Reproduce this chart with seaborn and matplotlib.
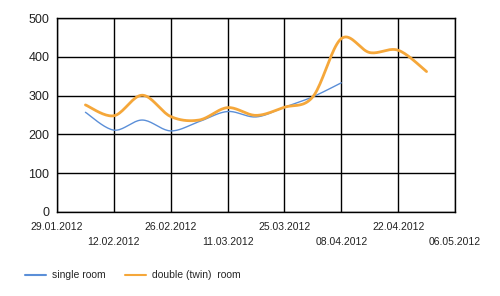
import numpy as np
import pandas as pd
import matplotlib
matplotlib.use("Agg")
import matplotlib.pyplot as plt
import matplotlib.dates as mdates
import seaborn as sns

# ---- data ----
single_dates = ["2012-02-05", "2012-02-12", "2012-02-19", "2012-02-26", "2012-03-04",
                "2012-03-11", "2012-03-18", "2012-03-25", "2012-04-01", "2012-04-08"]
single_values = [257, 211, 237, 209, 233, 259, 245, 270, 297, 333]

double_dates = ["2012-02-05", "2012-02-12", "2012-02-19", "2012-02-26", "2012-03-04",
                "2012-03-11", "2012-03-18", "2012-03-25", "2012-04-01", "2012-04-08",
                "2012-04-15", "2012-04-22", "2012-04-29"]
double_values = [276, 248, 301, 246, 237, 269, 249, 270, 297, 447, 411, 417, 362]

tick_labels = ["29.01.2012", "12.02.2012", "26.02.2012", "11.03.2012",
               "25.03.2012", "08.04.2012", "22.04.2012", "06.05.2012"]
y_ticks = [0, 100, 200, 300, 400, 500]

series_names = ["single room", "double (twin)  room"]
colors = ["#5b8fd8", "#f5a73a"]
widths = [1.0, 2.0]


def cardinal_spline(x, y, tension=0.5, n=20):
    """Render a smooth (cardinal spline) path through the data points."""
    x = np.asarray(x, float)
    y = np.asarray(y, float)
    xs, ys = [], []
    k = tension
    for i in range(len(x) - 1):
        p0 = (x[i - 1] if i > 0 else x[i], y[i - 1] if i > 0 else y[i])
        p1 = (x[i], y[i])
        p2 = (x[i + 1], y[i + 1])
        p3 = (x[i + 2] if i + 2 < len(x) else x[i + 1], y[i + 2] if i + 2 < len(x) else y[i + 1])
        m1 = (k * (p2[0] - p0[0]), k * (p2[1] - p0[1]))
        m2 = (k * (p3[0] - p1[0]), k * (p3[1] - p1[1]))
        t = np.linspace(0, 1, n, endpoint=(i == len(x) - 2))
        h00 = 2 * t**3 - 3 * t**2 + 1
        h10 = t**3 - 2 * t**2 + t
        h01 = -2 * t**3 + 3 * t**2
        h11 = t**3 - t**2
        xs.append(h00 * p1[0] + h10 * m1[0] + h01 * p2[0] + h11 * m2[0])
        ys.append(h00 * p1[1] + h10 * m1[1] + h01 * p2[1] + h11 * m2[1])
    return np.concatenate(xs), np.concatenate(ys)


sns.set_theme(style="white")
plt.rcParams["font.family"] = ["Liberation Sans", "DejaVu Sans"]

fig = plt.figure(figsize=(5.0, 2.96), dpi=100)
ax = fig.add_axes([0.114, 0.284, 0.796, 0.655])

frames = []
for name, dates, vals in [(series_names[0], single_dates, single_values),
                          (series_names[1], double_dates, double_values)]:
    xnum = mdates.date2num(pd.to_datetime(dates))
    sx, sy = cardinal_spline(xnum, vals)
    frames.append(pd.DataFrame({"x": sx, "y": sy, "series": name}))
df = pd.concat(frames, ignore_index=True)

for name, c, w in zip(series_names, colors, widths):
    sub = df[df["series"] == name]
    sns.lineplot(data=sub, x="x", y="y", ax=ax, color=c, linewidth=w,
                 label=name, sort=False, estimator=None, zorder=3)

tick_dates = mdates.date2num(pd.to_datetime(tick_labels, format="%d.%m.%Y"))
ax.set_xlim(tick_dates[0], tick_dates[-1])
ax.set_ylim(0, 500)
ax.set_xticks(tick_dates)
ax.set_xticklabels([lab if i % 2 == 0 else "\n" + lab for i, lab in enumerate(tick_labels)],
                   fontsize=7.5, linespacing=1.65)
ax.set_yticks(y_ticks)
ax.set_yticklabels([str(v) for v in y_ticks], fontsize=9)
ax.set_xlabel("")
ax.set_ylabel("")
ax.grid(True, color="black", linewidth=1.0)
ax.set_axisbelow(True)
for s in ax.spines.values():
    s.set_color("black")
    s.set_linewidth(1.0)
ax.tick_params(axis="both", which="both", direction="out", length=4, width=1,
               color="black", labelcolor="#222222")
ax.tick_params(axis="x", pad=3)
ax.tick_params(axis="y", pad=1.5)

leg = ax.legend(loc="upper left", bbox_to_anchor=(-0.09, -0.28), ncol=2, frameon=False,
                fontsize=7.5, handlelength=2.0, handletextpad=0.6, columnspacing=1.8,
                borderaxespad=0)
for h in leg.get_lines():
    h.set_linewidth(1.5)

fig.savefig("out.png", dpi=100, facecolor="white")
